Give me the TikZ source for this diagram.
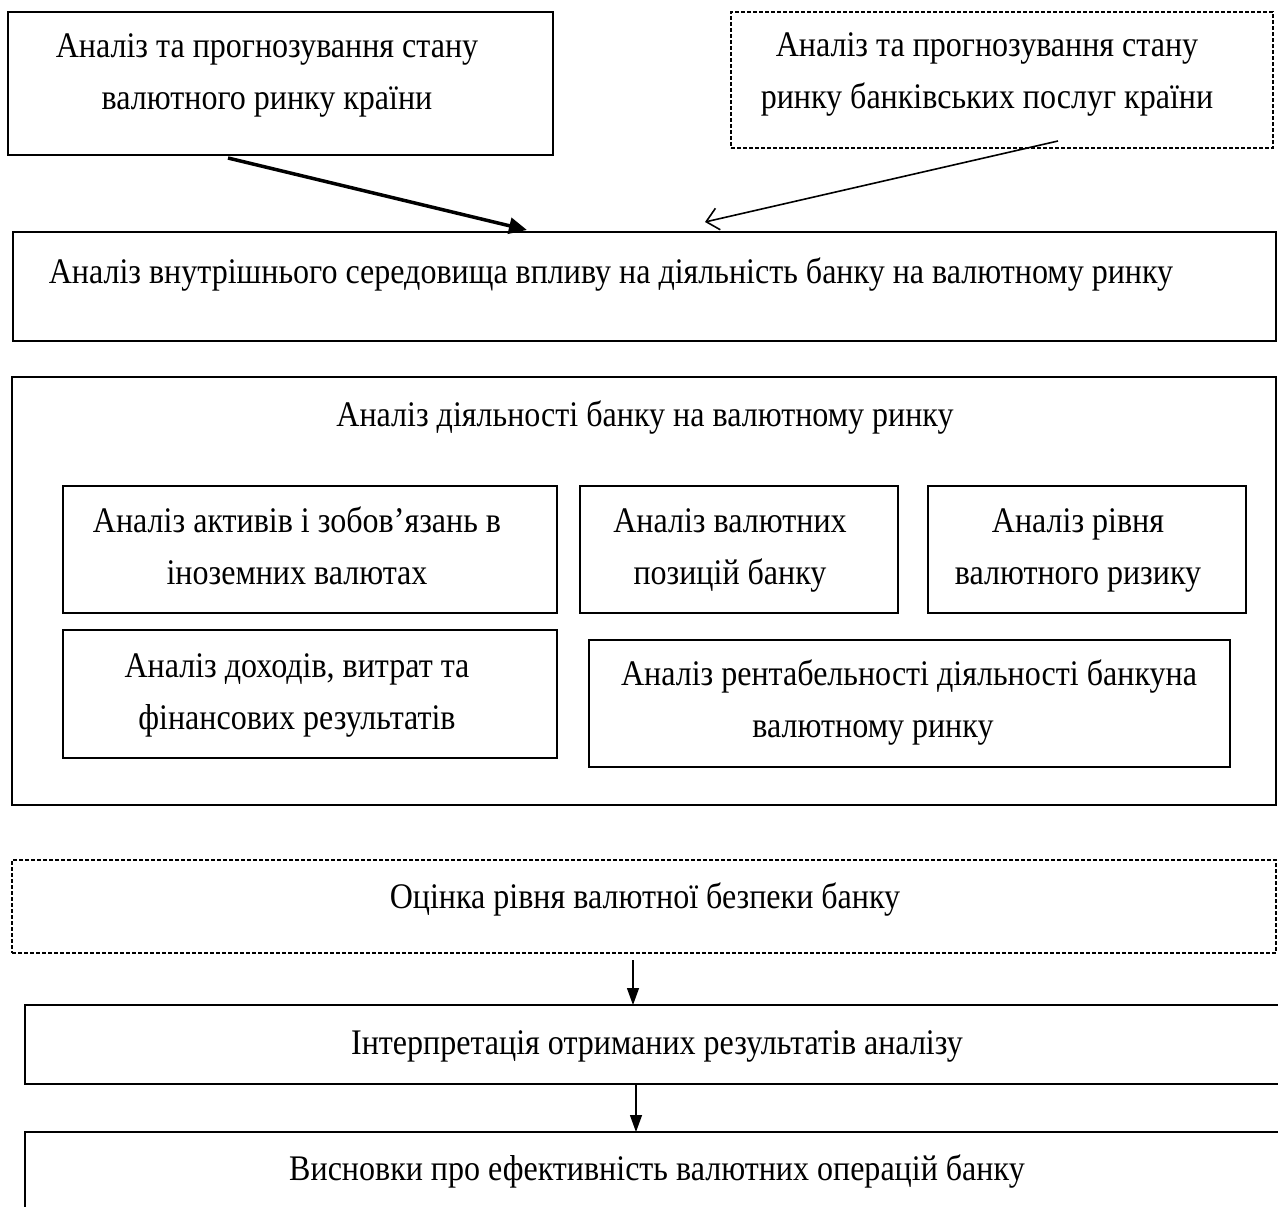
\documentclass[tikz,border=0pt]{standalone}
\usepackage{fontspec}
\setmainfont[FakeStretch=0.89]{Liberation Serif}
\usetikzlibrary{arrows.meta}
\begin{document}
\begin{tikzpicture}[x=1pt,y=-1pt,
  box/.style={draw, line width=1.8pt, rectangle, inner sep=0pt},
  dbox/.style={box, line width=1.4pt, dash pattern=on 4pt off 2pt},
  txt/.style={align=center, inner sep=0pt, anchor=base, font=\fontsize{36}{52}\selectfont},
  thickarrow/.style={line width=3.5pt, -{Triangle[length=18pt,width=16pt]}},
  openarrow/.style={line width=1.6pt, -{Straight Barb[length=12pt,width=22pt]}},
  downarrow/.style={line width=1.3pt, -{Triangle[length=17pt,width=12pt]}}]
\useasboundingbox (0,0) rectangle (1278,1207);
% top boxes
\node[box, minimum width=545pt, minimum height=143pt] (A) at (280.5,83.5) {};
\node[txt] (At) at (267,110) {Аналіз та прогнозування стану\\валютного ринку країни};
\node[dbox, minimum width=542pt, minimum height=136pt] (B) at (1002,80) {};
\node[txt] (Bt) at (987,108) {Аналіз та прогнозування стану\\ринку банківських послуг країни};
% box C
\node[box, minimum width=1263pt, minimum height=109pt] (C) at (644.5,286.5) {};
\node[txt] (Ct) at (611,283) {Аналіз внутрішнього середовища впливу на діяльність банку на валютному ринку};
% arrows into C
\coordinate (a1s) at (228,158);
\coordinate (a1e) at (527,230);
\coordinate (a2s) at (1058,141);
\coordinate (a2e) at (705,222);
\draw[thickarrow] (a1s) -- (a1e);
\draw[openarrow] (a2s) -- (a2e);
% box D
\node[box, minimum width=1264pt, minimum height=428pt] (D) at (644,591) {};
\node[txt] (Dt) at (645,426) {Аналіз діяльності банку на валютному ринку};
\node[box, minimum width=494pt, minimum height=127pt] (D1) at (310,549.5) {};
\node[txt] (D1t) at (297,584) {Аналіз активів і зобов’язань в\\іноземних валютах};
\node[box, minimum width=318pt, minimum height=127pt] (D2) at (739,549.5) {};
\node[txt] (D2t) at (730,584) {Аналіз валютних\\позицій банку};
\node[box, minimum width=318pt, minimum height=127pt] (D3) at (1087,549.5) {};
\node[txt] (D3t) at (1078,584) {Аналіз рівня\\валютного ризику};
\node[box, minimum width=494pt, minimum height=128pt] (D4) at (310,694) {};
\node[txt] (D4t) at (297,729) {Аналіз доходів, витрат та\\фінансових результатів};
\node[box, minimum width=641pt, minimum height=127pt] (D5) at (909.5,703.5) {};
\node[txt] (D5t) at (909,737) {Аналіз рентабельності діяльності банкуна\\валютному ринку\hspace*{72pt}};
% box E
\node[dbox, minimum width=1264pt, minimum height=93pt] (E) at (644,906.5) {};
\node[txt] (Et) at (645,908) {Оцінка рівня валютної безпеки банку};
% box F
\node[box, minimum width=1255pt, minimum height=79pt] (F) at (652.5,1044.5) {};
\node[txt] (Ft) at (657,1054) {Інтерпретація отриманих результатів аналізу};
% box G
\node[box, minimum width=1255pt, minimum height=110pt] (G) at (652.5,1187) {};
\node[txt] (Gt) at (657,1180) {Висновки про ефективність валютних операцій банку};
% down arrows
\coordinate (e3s) at (633,960);
\coordinate (e3e) at (633,1005);
\coordinate (e4s) at (636,1084);
\coordinate (e4e) at (636,1132);
\draw[downarrow] (e3s) -- (e3e);
\draw[downarrow] (e4s) -- (e4e);
\end{tikzpicture}
\end{document}
